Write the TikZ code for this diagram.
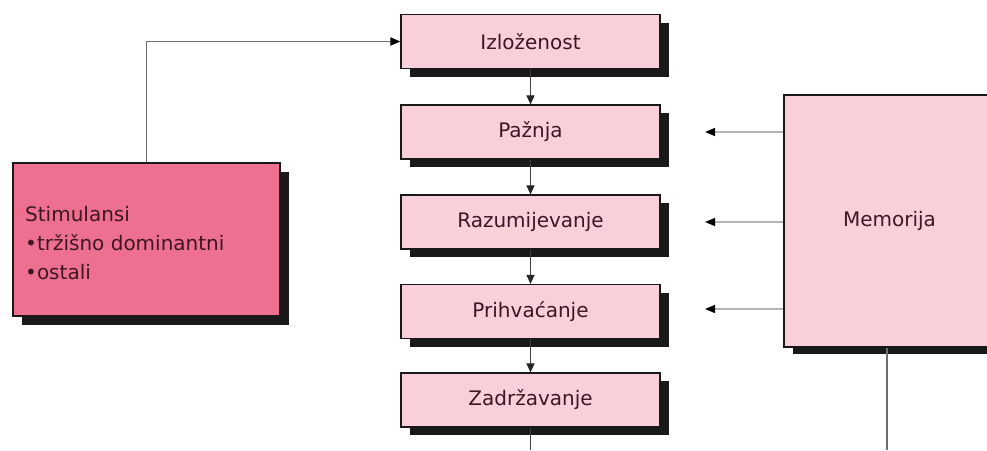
\documentclass[tikz,border=0pt]{standalone}
\usepackage{fontspec}
\setmainfont{DejaVu Sans}
\usetikzlibrary{shadows,arrows.meta}
\definecolor{lightpink}{RGB}{249,207,218}
\definecolor{hotpink}{RGB}{238,112,145}
\definecolor{txt}{RGB}{62,22,36}
\definecolor{lgray}{RGB}{180,180,180}
\definecolor{mgray}{RGB}{110,110,110}
\tikzset{
  stepbox/.style={draw=black!90, line width=1.2pt, fill=lightpink, minimum width=259pt, minimum height=54pt,
    inner sep=0pt, text=txt, font=\fontsize{20}{24}\selectfont,
    drop shadow={shadow xshift=9pt, shadow yshift=-8pt, fill=black!90, opacity=1}},
  flow/.style={draw=black!75, line width=1.1pt, -{Triangle[length=9pt,width=8pt,color=black!85]}},
  memarrow/.style={draw=lgray, line width=1.3pt, -{Triangle[length=10pt,width=8pt,color=black]}},
}
\begin{document}
\begin{tikzpicture}[x=1pt,y=-1pt]
\useasboundingbox (0,0) rectangle (987,450);
\begin{scope}
\clip (0,0) rectangle (987,450);
\node[stepbox] (izl) at (530.5,41.5) {Izloženost};
\node[stepbox] (paz) at (530.5,132) {Pažnja};
\node[stepbox] (raz) at (530.5,222) {Razumijevanje};
\node[stepbox] (pri) at (530.5,311.5) {Prihvaćanje};
\node[stepbox] (zad) at (530.5,400) {Zadržavanje};
\node[draw=black!90, line width=1.2pt, fill=hotpink, minimum width=267pt, minimum height=153pt, inner sep=0pt,
  drop shadow={shadow xshift=9pt, shadow yshift=-9pt, fill=black!90, opacity=1}] (stim) at (146.5,239.5) {};
\node[anchor=west, align=left, text=txt, font=\fontsize{20}{29}\selectfont, inner sep=0pt] (stimtxt) at (25,243)
  {Stimulansi\\•tržišno dominantni\\•ostali};
\node[draw=black!90, line width=1.2pt, fill=lightpink, minimum width=211pt, minimum height=252pt, inner sep=0pt,
  drop shadow={shadow xshift=9pt, shadow yshift=-7pt, fill=black!90, opacity=1}, text=txt,
  font=\fontsize{20}{24}\selectfont] (mem) at (889.5,221) {Memorija};
\coordinate (e1) at (705,132);
\coordinate (e2) at (705,222);
\coordinate (e3) at (705,309);
\coordinate (b1) at (530.5,450);
\coordinate (b2) at (887,450);
\draw[draw=mgray, line width=1.8pt, -{Triangle[length=10pt,width=8pt,color=black]}] (stim.north) |- (izl.west);
\draw[flow] (izl.south) -- (paz.north);
\draw[flow] (paz.south) -- (raz.north);
\draw[flow] (raz.south) -- (pri.north);
\draw[flow] (pri.south) -- (zad.north);
\draw[draw=black!75, line width=1.1pt] (zad.south) -- (b1);
\draw[draw=mgray, line width=1.8pt] (b2 |- mem.south) -- (b2);
\draw[memarrow] (e1 -| mem.west) -- (e1);
\draw[memarrow] (e2 -| mem.west) -- (e2);
\draw[memarrow] (e3 -| mem.west) -- (e3);
\end{scope}
\end{tikzpicture}
\end{document}
